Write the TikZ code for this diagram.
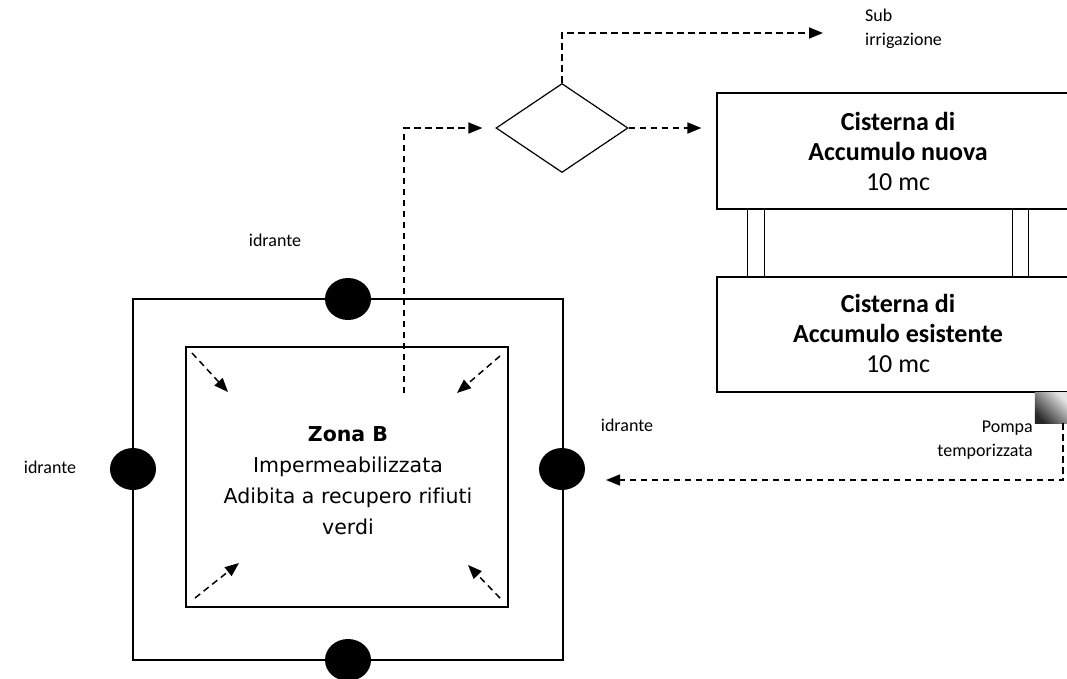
\documentclass[tikz,border=0pt]{standalone}
\usepackage{fontspec}
\setmainfont{Carlito}
\newfontfamily\vfont[Ligatures=NoCommon]{DejaVu Sans}
\usetikzlibrary{arrows.meta,shapes.geometric}
\tikzset{
  box/.style={draw=black, line width=1.2pt, rectangle, inner sep=0pt},
  hyd/.style={draw=none, fill=black, ellipse, inner sep=0pt, minimum width=46pt, minimum height=42pt},
  flow/.style={draw=black, line width=1.5pt, dash pattern=on 6.5pt off 4.5pt, -{Triangle[length=14pt,width=11pt]}},
  pipe/.style={draw=black, line width=1.2pt},
  lbl/.style={font=\fontsize{18}{24}\selectfont, align=left, inner sep=0pt},
  cistxt/.style={font=\fontsize{26}{30}\selectfont, align=center, inner sep=0pt},
}
\begin{document}
\begin{tikzpicture}[x=1pt,y=-1pt]
\clip (0,0) rectangle (1067,678);
\fill[white] (0,0) rectangle (1067,678);
% zone rectangles
\node[box, minimum width=430pt, minimum height=361pt] (outer) at (348,479.5) {};
\node[box, minimum width=322pt, minimum height=260pt] (inner) at (347,477) {};
\node[font=\vfont\fontsize{20.5}{31}\selectfont, align=center, inner sep=0pt] (zonatext) at (348,481)
  {\textbf{Zona B}\\Impermeabilizzata\\Adibita a recupero rifiuti\\verdi};
% hydrants
\node[hyd] (hydT) at (348,299) {};
\node[hyd] (hydL) at (133,469) {};
\node[hyd] (hydR) at (562,469) {};
\node[hyd] (hydB) at (348,660) {};
\node[lbl] (lblT) at (275,240) {idrante};
\node[lbl] (lblL) at (50,467) {idrante};
\node[lbl] (lblR) at (627,425) {idrante};
% diamond
\node[draw=black, line width=1.2pt, diamond, inner sep=0pt, minimum width=132pt, minimum height=89pt, aspect=1.48] (diam) at (562,128) {};
% cisterns
\node[box, minimum width=362pt, minimum height=116pt] (cist1) at (898,151) {};
\node[cistxt] (cist1t) at (898,151) {\textbf{Cisterna di}\\\textbf{Accumulo nuova}\\10 mc};
\node[box, minimum width=362pt, minimum height=115pt] (cist2) at (898,334.5) {};
\node[cistxt] (cist2t) at (898,333) {\textbf{Cisterna di}\\\textbf{Accumulo esistente}\\10 mc};
% pipes between cisterns
\draw[pipe] ([xshift=31pt]cist1.south west) -- ([xshift=31pt]cist2.north west);
\draw[pipe] ([xshift=48pt]cist1.south west) -- ([xshift=48pt]cist2.north west);
\draw[pipe] ([xshift=296pt]cist1.south west) -- ([xshift=296pt]cist2.north west);
\draw[pipe] ([xshift=312pt]cist1.south west) -- ([xshift=312pt]cist2.north west);
% pump
\node[inner sep=0pt, minimum width=32pt, minimum height=30pt] (pump) at (1051,408) {};
\shade[top color=gray!20, bottom color=black!85, shading angle=-45] (pump.north west) rectangle (pump.south east);
\node[lbl, align=right, anchor=east] (pumplbl) at (1033,440) {Pompa\\temporizzata};
% sub irrigazione
\node[lbl, anchor=west] (sub) at (865,29) {Sub\\irrigazione};
% coordinates
\coordinate (zoneout) at (404,393);
\coordinate (subtip) at (823,33);
\coordinate (pumpout) at (1063,423);
\coordinate (rettip) at (606,480);
% connectors
\draw[flow, shorten >=13pt] (zoneout) |- (diam.west);
\draw[flow, shorten >=15pt] (diam.east) -- (cist1.west |- diam.east);
\draw[flow] (diam.north) |- (subtip);
\draw[flow] (pumpout) |- (rettip);
% inner diagonal arrows
\coordinate (a1s) at (192,353); \coordinate (a1e) at (228,392);
\coordinate (a2s) at (500,356); \coordinate (a2e) at (457,393);
\coordinate (a3s) at (195,598); \coordinate (a3e) at (239,563);
\coordinate (a4s) at (500,598); \coordinate (a4e) at (468,565);
\draw[flow] (a1s) -- (a1e);
\draw[flow] (a2s) -- (a2e);
\draw[flow] (a3s) -- (a3e);
\draw[flow] (a4s) -- (a4e);
\end{tikzpicture}
\end{document}
